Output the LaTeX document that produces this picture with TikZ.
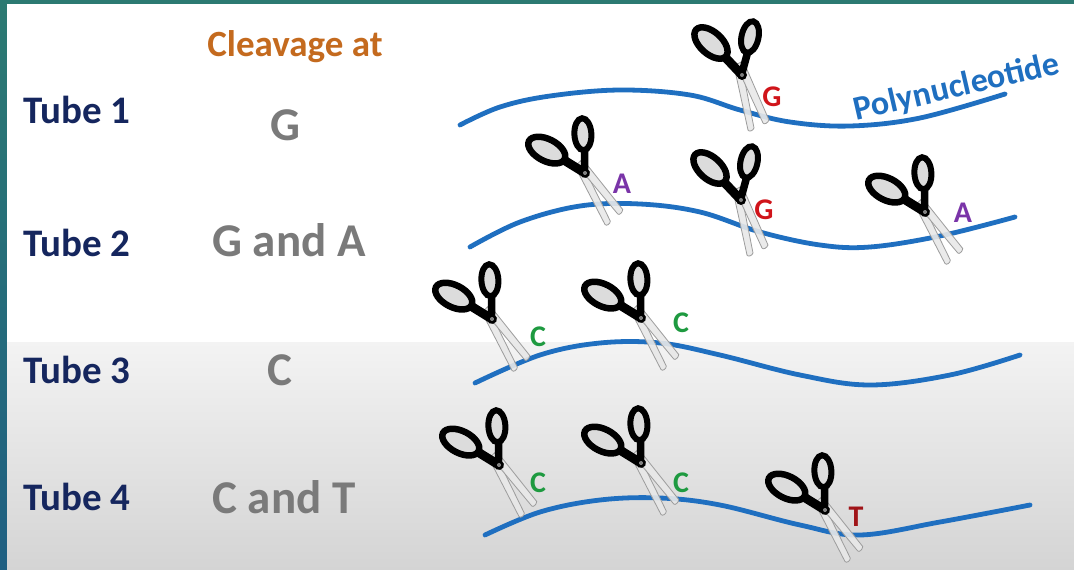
\documentclass[tikz,border=0pt]{standalone}
\usepackage{fontspec}
\setmainfont{Carlito}
\begin{document}
\begin{tikzpicture}[x=1pt,y=-1pt]
\definecolor{frameA}{HTML}{2C7A72}
\definecolor{frameB}{HTML}{1F5F82}
\definecolor{panelA}{HTML}{F3F3F3}
\definecolor{panelB}{HTML}{D4D4D4}
\definecolor{dna}{HTML}{1F6FC0}
\definecolor{tubecol}{HTML}{15265E}
\definecolor{headcol}{HTML}{C46A1E}
\definecolor{basecol}{HTML}{7A7A7A}
\definecolor{gcol}{HTML}{D0141A}
\definecolor{acol}{HTML}{7A34A8}
\definecolor{ccol}{HTML}{1E9A40}
\definecolor{tcol}{HTML}{A01418}
\definecolor{loopfill}{HTML}{DCDCDC}
\definecolor{bladefill}{HTML}{E8E8E8}
\definecolor{bladeedge}{HTML}{9C9C9C}
\tikzset{
  tubelabel/.style={text=tubecol, font=\fontsize{39}{40}\selectfont\bfseries, anchor=west, inner sep=0},
  head/.style={text=headcol, font=\fontsize{37}{40}\selectfont\bfseries, inner sep=0},
  site/.style={text=basecol, font=\fontsize{47}{50}\selectfont\bfseries, inner sep=0},
  base/.style={font=\fontsize{30}{31}\selectfont\bfseries, inner sep=0},
  strand/.style={draw=dna, line width=4.8pt, line cap=round},
  scissors/.pic={
    % blades
    \filldraw[fill=bladefill, draw=bladeedge, line width=0.8pt, fill opacity=0.9]
      (-8,-9) -- (-1,-13) -- (12,53) .. controls (11,56) and (7,57) .. (6,55) -- cycle;
    \filldraw[fill=bladefill, draw=bladeedge, line width=0.8pt, fill opacity=0.9]
      (-4,-6) -- (3,-10) -- (27,45) .. controls (26,48) and (22,50) .. (21,48) -- cycle;
    % handles
    \draw[line width=9pt, line cap=round] (-18,-19) -- (-1,-1);
    \draw[line width=7.5pt, line cap=round] (6,-24) -- (0,-2);
    \draw[line width=6.5pt, fill=loopfill, rotate around={-42:(-31,-32)}]
      (-31,-32) ellipse [x radius=20, y radius=11];
    \draw[line width=6pt, fill=loopfill, rotate around={-12:(8,-38)}]
      (8,-38) ellipse [x radius=8.5, y radius=16];
    % pivot
    \fill[black] (0,0) circle (5);
    \fill[gray] (0,0) circle (2);
  }
}
\useasboundingbox (0,0) rectangle (1074,570);
% frame and panel
\shade[top color=frameA, bottom color=frameB] (0,0) rectangle (1074,570);
\fill[white] (7,4) rectangle (1074,570);
\shade[top color=panelA, bottom color=panelB] (7,342) rectangle (1074,570);

% headings and labels
\node[head] (hd) at (295,47) {Cleavage at};
\node[tubelabel] (t1) at (23,110) {Tube 1};
\node[tubelabel] (t2) at (23,243) {Tube 2};
\node[tubelabel] (t3) at (23,370) {Tube 3};
\node[tubelabel] (t4) at (23,497) {Tube 4};
\node[site] (s1) at (285,125) {G};
\node[site] (s2) at (289,240) {G and A};
\node[site] (s3) at (280,370) {C};
\node[site] (s4) at (284,497) {C and T};

% polynucleotide strands
\draw[strand] plot[smooth, tension=0.6] coordinates {(460,125) (500,107) (550,96) (620,90) (690,95) (740,110) (790,122) (850,126) (920,118) (1005,94)};
\draw[strand] plot[smooth, tension=0.6] coordinates {(470,247) (520,222) (580,206) (640,204) (700,212) (760,232) (820,245) (870,247) (940,236) (1015,217)};
\draw[strand] plot[smooth, tension=0.6] coordinates {(475,383) (540,355) (600,343) (660,343) (720,355) (800,375) (870,385) (950,375) (1020,355)};
\draw[strand] plot[smooth, tension=0.6] coordinates {(485,535) (540,512) (600,500) (660,498) (720,505) (800,525) (860,535) (940,522) (1030,505)};
\node[text=dna, font=\fontsize{34}{36}\selectfont\bfseries, rotate=13, inner sep=0] (poly) at (957,88) {Polynucleotide};

% tube 1
\pic at (742,75) {scissors};
\node[base, text=gcol] (b1) at (772,97) {G};
% tube 2
\pic[rotate=15] at (585,173) {scissors};
\node[base, text=acol] (b2) at (622,184) {A};
\pic at (741,200) {scissors};
\node[base, text=gcol] (b3) at (764,210) {G};
\pic[rotate=15] at (925,212) {scissors};
\node[base, text=acol] (b4) at (963,213) {A};
% tube 3
\pic[rotate=15] at (492,319) {scissors};
\node[base, text=ccol] (b5) at (538,337) {C};
\pic[rotate=15] at (641,318) {scissors};
\node[base, text=ccol] (b6) at (681,323) {C};
% tube 4
\pic[rotate=15] at (499,465) {scissors};
\node[base, text=ccol] (b7) at (538,483) {C};
\pic[rotate=15] at (641,463) {scissors};
\node[base, text=ccol] (b8) at (681,483) {C};
\pic[rotate=15] at (825,510) {scissors};
\node[base, text=tcol] (b9) at (856,517) {T};
\end{tikzpicture}
\end{document}
